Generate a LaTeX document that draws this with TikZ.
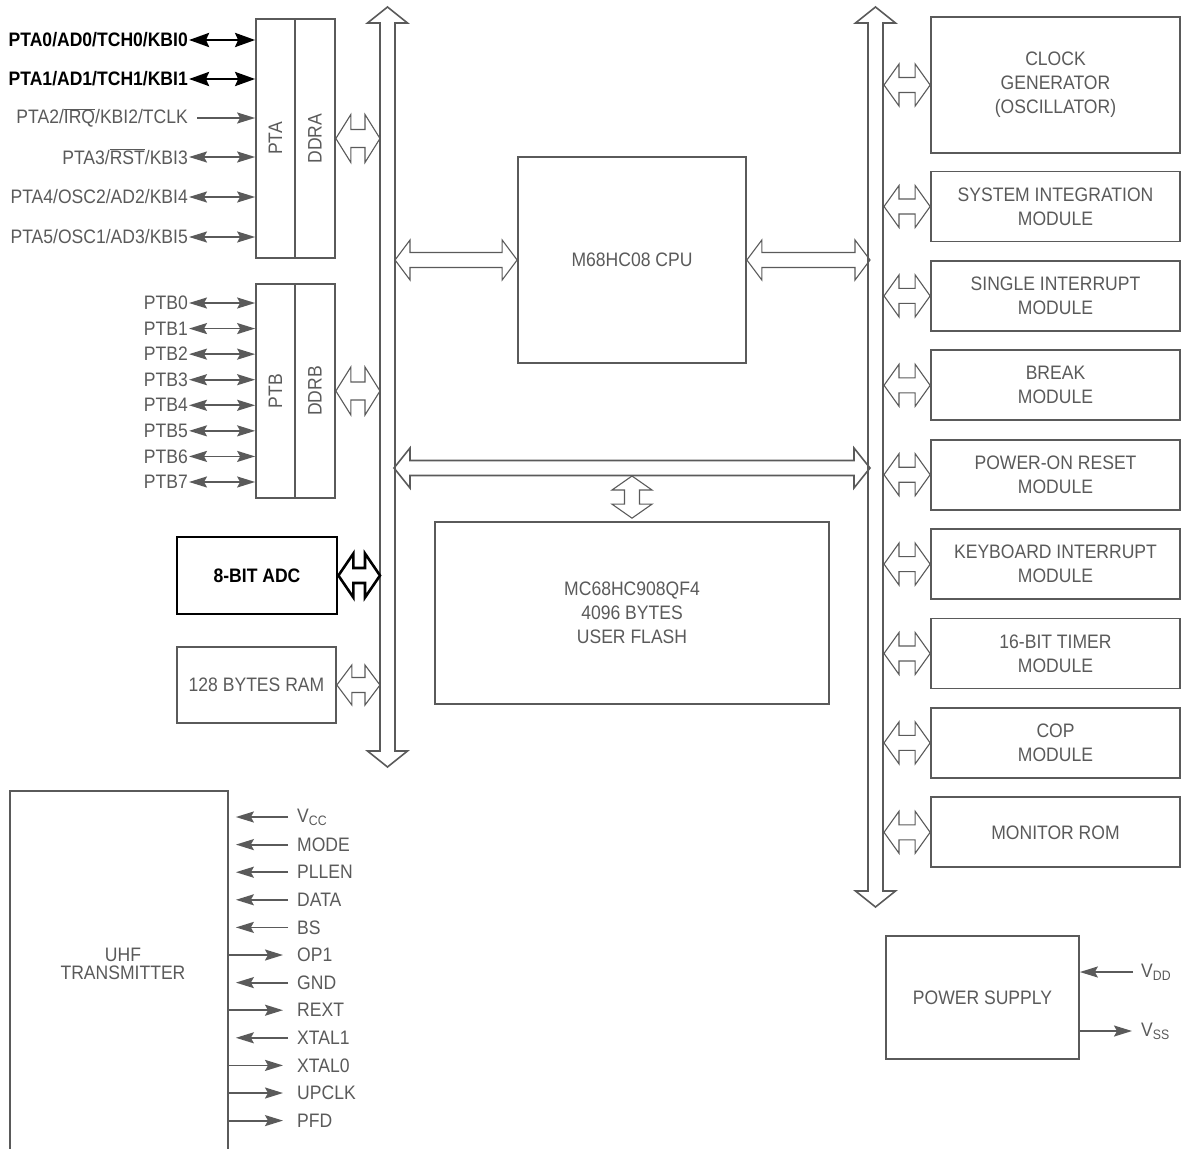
\documentclass[tikz,border=0pt]{standalone}
\usepackage{fontspec}
\setmainfont{Liberation Sans}[FakeStretch=0.9]
\usetikzlibrary{arrows.meta,calc,positioning}
\definecolor{linegray}{RGB}{90,90,90}
\newcommand\mainsz{\fontsize{19.5}{24}\selectfont}

\tikzset{
  hh/.store in=\hh, hw/.store in=\hw, hs/.store in=\hs,
  hh=15pt, hw=20pt, hs=7.5pt,
  % hollow double-headed bus arrow between two points
  hollow/.style={draw=linegray, line width=1.1pt, line join=miter,
    to path={
      -- ($(\tikztostart)!\hh!(\tikztotarget)!\hw!90:(\tikztotarget)$)
      -- ($(\tikztostart)!\hh!(\tikztotarget)!\hs!90:(\tikztotarget)$)
      -- ($(\tikztotarget)!\hh!(\tikztostart)!\hs!-90:(\tikztostart)$)
      -- ($(\tikztotarget)!\hh!(\tikztostart)!\hw!-90:(\tikztostart)$)
      -- (\tikztotarget)
      -- ($(\tikztotarget)!\hh!(\tikztostart)!\hw!90:(\tikztostart)$)
      -- ($(\tikztotarget)!\hh!(\tikztostart)!\hs!90:(\tikztostart)$)
      -- ($(\tikztostart)!\hh!(\tikztotarget)!\hs!-90:(\tikztotarget)$)
      -- ($(\tikztostart)!\hh!(\tikztotarget)!\hw!-90:(\tikztotarget)$)
      -- cycle}},
  bus/.style={hollow, line width=1.6pt, hh=16pt},
  blk/.style={draw=linegray, line width=1.7pt, text=linegray, align=center,
    inner sep=0pt, font=\mainsz},
  rot/.style={rotate=90, text=linegray, font=\mainsz, inner sep=0pt},
  plbl/.style={anchor=east, inner sep=1pt, text=linegray, font=\mainsz},
  boldlbl/.style={plbl, text=black, font=\mainsz\bfseries},
  ulbl/.style={anchor=west, inner sep=1pt, text=linegray, font=\mainsz},
  pin/.style={draw=linegray, line width=1.8pt,
    -{Stealth[length=18pt,width=11pt,inset=3pt]}},
  bipin/.style={pin, {Stealth[length=18pt,width=11pt,inset=3pt]}-{Stealth[length=18pt,width=11pt,inset=3pt]}},
  boldpin/.style={draw=black, line width=2.8pt,
    {Stealth[length=20pt,width=14pt,inset=3pt]}-{Stealth[length=20pt,width=14pt,inset=3pt]}}
}

\begin{document}
\begin{tikzpicture}[x=1pt, y=-1pt]
\useasboundingbox (0,0) rectangle (1182,1148);

% bus lines
\coordinate (lbusL) at (380,0);
\coordinate (lbusR) at (395,0);
\coordinate (rbusL) at (868,0);
\coordinate (rbusR) at (884,0);
\coordinate (lbusT) at (387.5,7);
\coordinate (lbusB) at (387.5,767);
\coordinate (rbusT) at (875.5,7);
\coordinate (rbusB) at (875.5,907);
\coordinate (hbusL) at (394,468);
\coordinate (hbusLow) at (394,476);
\draw[bus] (lbusT) to (lbusB);
\draw[bus] (rbusT) to (rbusB);
\draw[bus] (hbusL) to ([xshift=2pt]hbusL -| rbusL);

% port A
\node[blk, minimum width=39pt, minimum height=239pt] (pta) at (275.5,138.5) {};
\node[blk, minimum width=40pt, minimum height=239pt] (ddra) at (315,138.5) {};
\node[rot] (ptatxt) at (pta) {PTA};
\node[rot] (ddratxt) at (ddra) {DDRA};
\node[boldlbl] (pa0) at (189,40) {PTA0/AD0/TCH0/KBI0};
\node[boldlbl] (pa1) at (189,79) {PTA1/AD1/TCH1/KBI1};
\node[plbl] (pa2) at (189,118) {PTA2/$\overline{\mbox{IRQ}}$/KBI2/TCLK};
\node[plbl] (pa3) at (189,157) {PTA3/$\overline{\mbox{RST}}$/KBI3};
\node[plbl] (pa4) at (189,197) {PTA4/OSC2/AD2/KBI4};
\node[plbl] (pa5) at (189,237) {PTA5/OSC1/AD3/KBI5};
\draw[boldpin] (pa0.east) -- (pa0.east -| pta.west);
\draw[boldpin] (pa1.east) -- (pa1.east -| pta.west);
\draw[pin] ([xshift=8pt]pa2.east) -- (pa2.east -| pta.west);
\draw[bipin] (pa3.east) -- (pa3.east -| pta.west);
\draw[bipin] (pa4.east) -- (pa4.east -| pta.west);
\draw[bipin] (pa5.east) -- (pa5.east -| pta.west);
\draw[hollow, hw=24pt, hs=9pt] (ddra.east) to (ddra.east -| lbusL);

% port B
\node[blk, minimum width=39pt, minimum height=214pt] (ptb) at (275.5,391) {};
\node[blk, minimum width=40pt, minimum height=214pt] (ddrb) at (315,391) {};
\node[rot] (ptbtxt) at (ptb) {PTB};
\node[rot] (ddrbtxt) at (ddrb) {DDRB};
\foreach \i in {0,...,7}{
  \node[plbl] (pb\i) at (189,{303+25.57*\i}) {PTB\i};
  \draw[bipin] (pb\i.east) -- (pb\i.east -| ptb.west);
}
\draw[hollow, hw=24pt, hs=9pt] (ddrb.east) to (ddrb.east -| lbusL);

% ADC and RAM
\node[blk, draw=black, text=black, line width=2.8pt, font=\mainsz\bfseries,
  minimum width=160pt, minimum height=77pt] (adc) at (257,575.5) {8-BIT ADC};
\draw[hollow, draw=black, line width=2.6pt, hw=22pt] (adc.east) to (adc.east -| lbusL);
\node[blk, minimum width=159pt, minimum height=76pt] (ram) at (256.5,685) {128 BYTES RAM};
\draw[hollow] (ram.east) to (ram.east -| lbusL);

% CPU and flash
\node[blk, minimum width=228pt, minimum height=206pt] (cpu) at (632,260) {M68HC08 CPU};
\draw[hollow] (cpu.west -| lbusR) to (cpu.west);
\draw[hollow] (cpu.east) to ([xshift=2pt]cpu.east -| rbusL);
\node[blk, minimum width=394pt, minimum height=182pt] (flash) at (632,613)
  {MC68HC908QF4\\4096 BYTES\\USER FLASH};
\draw[hollow, hh=14pt] (flash.north |- hbusLow) to ([yshift=3pt]flash.north);

% modules on the right bus
\node[blk, minimum width=249pt, minimum height=136pt] (clk) at (1055.5,85)
  {CLOCK\\GENERATOR\\(OSCILLATOR)};
\draw[hollow, hw=21pt] (clk.west -| rbusR) to (clk.west);
\foreach \nm/\txt [count=\k from 0] in {sim/{SYSTEM INTEGRATION\\MODULE},
    sint/{SINGLE INTERRUPT\\MODULE}, brk/{BREAK\\MODULE},
    por/{POWER-ON RESET\\MODULE}, kbi/{KEYBOARD INTERRUPT\\MODULE},
    tim/{16-BIT TIMER\\MODULE}, cop/{COP\\MODULE}, mon/{MONITOR ROM}}{
  \node[blk, minimum width=249pt, minimum height=70pt] (\nm) at (1055.5,{206.5+89.4*\k}) {\txt};
  \draw[hollow, hw=21pt] (\nm.west -| rbusR) to (\nm.west);
}

% power supply
\node[blk, minimum width=193pt, minimum height=123pt] (psu) at (982.5,997.5) {POWER SUPPLY};
\node[ulbl] (vdd) at (1140,972) {V\textsubscript{DD}};
\node[ulbl] (vss) at (1140,1031) {V\textsubscript{SS}};
\draw[pin] ([xshift=-7pt]vdd.west) -- (vdd.west -| psu.east);
\draw[pin] (vss.west -| psu.east) -- ([xshift=-8pt]vss.west);

% UHF transmitter
\node[draw=linegray, line width=1.7pt, minimum width=218pt, minimum height=361pt] (uhf) at (119,971.5) {};
\node[text=linegray, align=center, inner sep=0pt, font=\fontsize{19.5}{18}\selectfont]
  (uhftxt) at (123,964) {UHF\\TRANSMITTER};
\foreach \k/\pin in {0/V\textsubscript{CC},1/MODE,2/PLLEN,3/DATA,4/BS,6/GND,8/XTAL1}{
  \node[ulbl] (u\k) at (296,{817+27.6*\k}) {\pin};
  \draw[pin] ([xshift=-8pt]u\k.west) -- ([xshift=7pt]u\k.west -| uhf.east);
}
\foreach \k/\pin in {5/OP1,7/REXT,9/XTAL0,10/UPCLK,11/PFD}{
  \node[ulbl] (u\k) at (296,{817+27.6*\k}) {\pin};
  \draw[pin] (u\k.west -| uhf.east) -- ([xshift=-13pt]u\k.west);
}
\end{tikzpicture}
\end{document}
